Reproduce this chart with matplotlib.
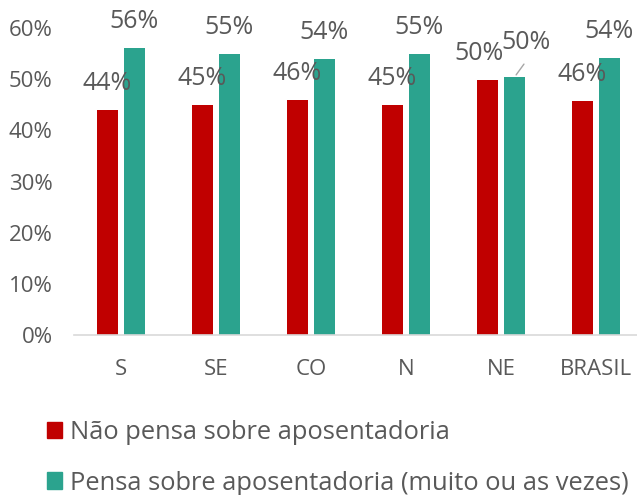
import matplotlib.pyplot as plt
from matplotlib.patches import Patch
import numpy as np

plt.rcParams['font.family'] = ['Open Sans', 'DejaVu Sans']

categories = ['S', 'SE', 'CO', 'N', 'NE', 'BRASIL']
nao_pensa = [44, 45, 46, 45, 49.8, 45.8]
pensa = [56, 55, 54, 55, 50.4, 54.2]
labels_nao = ['44%', '45%', '46%', '45%', '50%', '46%']
labels_pensa = ['56%', '55%', '54%', '55%', '50%', '54%']
series_names = ['Não pensa sobre aposentadoria',
                'Pensa sobre aposentadoria (muito ou as vezes)']

red = '#C00000'
teal = '#2BA38E'
grey = '#595959'

fig = plt.figure(figsize=(6.37, 4.95), dpi=100)
ax = fig.add_axes([73.5 / 637, 1 - 335 / 495, 570 / 637, (335 - 28) / 495])

x = np.arange(len(categories))
w = 0.227
off = 0.142
ax.bar(x - off, nao_pensa, w, color=red)
ax.bar(x + off, pensa, w, color=teal)

ax.set_xlim(-0.5, 5.5)
ax.set_ylim(0, 60)
ax.set_yticks(range(0, 61, 10))
ax.set_yticklabels([f'{v}%' for v in range(0, 61, 10)])
ax.set_xticks(x)
ax.set_xticklabels(categories)
ax.tick_params(axis='both', length=0, labelsize=16, colors=grey)
ax.tick_params(axis='y', pad=15)
ax.tick_params(axis='x', pad=17)
for s in ['top', 'right', 'left']:
    ax.spines[s].set_visible(False)
ax.spines['bottom'].set_color('#D9D9D9')
ax.spines['bottom'].set_linewidth(1.2)

# data labels
for i in range(len(categories)):
    dx_r, dy_r = 0, 14.4
    dx_t, dy_t = 0, 14.4
    if categories[i] == 'NE':
        dx_r, dy_r = -6, 14.4
        dx_t, dy_t = 8, 20
    ax.annotate(labels_nao[i], (x[i] - off, nao_pensa[i]), xytext=(dx_r, dy_r),
                textcoords='offset points', ha='center', va='baseline',
                fontsize=18, color=grey)
    ax.annotate(labels_pensa[i], (x[i] + off, pensa[i]), xytext=(dx_t, dy_t),
                textcoords='offset points', ha='center', va='baseline',
                fontsize=18, color=grey)
    if categories[i] == 'NE':
        ax.annotate('', (x[i] + off, pensa[i]), xytext=(8, 11),
                    textcoords='offset points',
                    arrowprops=dict(arrowstyle='-', color='#A6A6A6', lw=1))

handles = [Patch(color=red), Patch(color=teal)]
fig.legend(handles, series_names, loc='upper left',
           bbox_to_anchor=(47 / 637, 1 - 420 / 495), frameon=False,
           fontsize=18.4, labelcolor=grey, handlelength=0.6, handleheight=0.6,
           handletextpad=0.3, labelspacing=1.0, borderaxespad=0, borderpad=0)

fig.savefig('out.png', dpi=100)
